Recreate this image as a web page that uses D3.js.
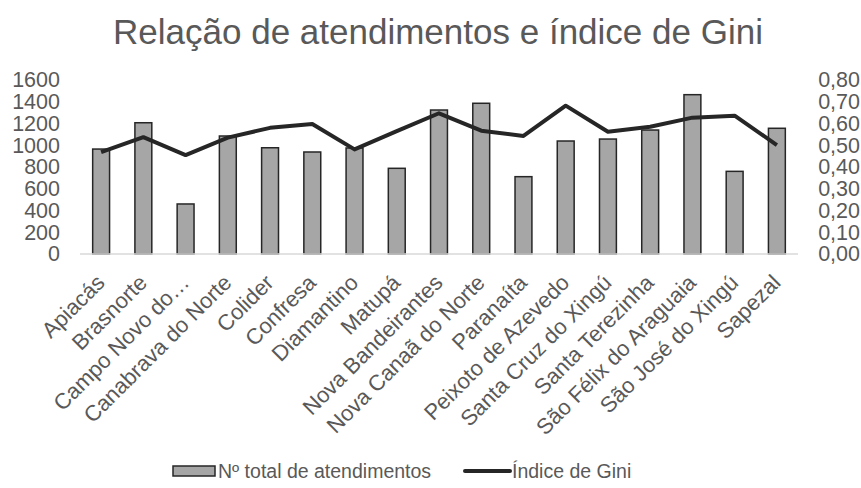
<!DOCTYPE html>
<html>
<head>
<meta charset="utf-8">
<script src="https://cdnjs.cloudflare.com/ajax/libs/d3/7.8.5/d3.min.js"></script>
<style>
  body { margin: 0; background: #fff; }
  svg text { font-family: "Liberation Sans", Arial, sans-serif; fill: #595959; }
</style>
</head>
<body>
<div id="chart"></div>
<script>
const municipios = ['Apiacás', 'Brasnorte', 'Campo Novo do…', 'Canabrava do Norte', 'Colider', 'Confresa',
    'Diamantino', 'Matupá', 'Nova Bandeirantes', 'Nova Canaã do Norte', 'Paranaíta', 'Peixoto de Azevedo',
    'Santa Cruz do Xingú', 'Santa Terezinha', 'São Félix do Araguaia', 'São José do Xingú', 'Sapezal'];
const atendimentos = [965, 1207, 460, 1085, 977, 938, 975, 788, 1324, 1386, 711, 1039, 1057, 1140, 1465, 760, 1156];
const gini = [0.468, 0.537, 0.455, 0.535, 0.580, 0.598, 0.481, 0.565, 0.647, 0.567, 0.543, 0.682, 0.562, 0.585, 0.627, 0.636, 0.501];
const leftTicks = [0, 200, 400, 600, 800, 1000, 1200, 1400, 1600];
const rightTicks = [0, 0.1, 0.2, 0.3, 0.4, 0.5, 0.6, 0.7, 0.8];

const width = 861, height = 488;
const margin = { top: 80, right: 63, bottom: 234, left: 80 };

const svg = d3.select('#chart').append('svg')
    .attr('width', width)
    .attr('height', height);

const x = d3.scaleBand()
    .domain(municipios)
    .range([margin.left, width - margin.right])
    .paddingInner(0.6)
    .paddingOuter(0.3);

const yLeft = d3.scaleLinear().domain([0, 1600]).range([height - margin.bottom, margin.top]);
const yRight = d3.scaleLinear().domain([0, 0.8]).range([height - margin.bottom, margin.top]);

svg.append('text')
    .attr('x', 438)
    .attr('y', 44)
    .attr('text-anchor', 'middle')
    .style('font-size', '35px')
    .text('Relação de atendimentos e índice de Gini');

// eixo esquerdo
const gLeft = svg.append('g')
    .attr('transform', 'translate(60,0)')
    .call(d3.axisLeft(yLeft).tickValues(leftTicks).tickSize(0).tickPadding(0).tickFormat(d3.format('d')));
gLeft.select('.domain').remove();
gLeft.selectAll('text').style('font-size', '21.5px').attr('fill', '#595959');

// eixo direito
const gRight = svg.append('g')
    .attr('transform', `translate(${width - 1},0)`)
    .call(d3.axisLeft(yRight).tickValues(rightTicks).tickSize(0).tickPadding(0)
        .tickFormat(d => d3.format('.2f')(d).replace('.', ',')));
gRight.select('.domain').remove();
gRight.selectAll('text').style('font-size', '21.5px').attr('fill', '#595959');

// barras
svg.selectAll('.bar')
    .data(municipios)
    .enter()
    .append('rect')
    .attr('class', 'bar')
    .attr('x', d => x(d))
    .attr('y', (d, i) => yLeft(atendimentos[i]))
    .attr('width', x.bandwidth())
    .attr('height', (d, i) => yLeft(0) - yLeft(atendimentos[i]))
    .attr('fill', '#a6a6a6')
    .attr('stroke', '#262626')
    .attr('stroke-width', 1.5);

// linha de base
svg.append('line')
    .attr('x1', margin.left)
    .attr('x2', width - margin.right)
    .attr('y1', yLeft(0))
    .attr('y2', yLeft(0))
    .attr('stroke', '#d9d9d9')
    .attr('stroke-width', 1.5);

// linha Gini
const line = d3.line()
    .x((d, i) => x(municipios[i]) + x.bandwidth() / 2)
    .y(d => yRight(d));

svg.append('path')
    .datum(gini)
    .attr('d', line)
    .attr('fill', 'none')
    .attr('stroke', '#262626')
    .attr('stroke-width', 4)
    .attr('stroke-linejoin', 'round');

// rótulos das categorias
svg.selectAll('.cat-label')
    .data(municipios)
    .enter()
    .append('text')
    .attr('class', 'cat-label')
    .attr('text-anchor', 'end')
    .attr('transform', d => `translate(${x(d) + x.bandwidth() / 2 + 5},${yLeft(0) + 30}) rotate(-45)`)
    .style('font-size', '22px')
    .text(d => d);

// legenda
const leg = svg.append('g').attr('transform', 'translate(0,471)');
leg.append('rect')
    .attr('x', 173).attr('y', -5)
    .attr('width', 42).attr('height', 10)
    .attr('fill', '#a6a6a6').attr('stroke', '#262626').attr('stroke-width', 1.5);
leg.append('text')
    .attr('x', 218).attr('y', 7)
    .style('font-size', '19.5px')
    .text('Nº total de atendimentos');
leg.append('line')
    .attr('x1', 465).attr('x2', 510)
    .attr('y1', 0).attr('y2', 0)
    .attr('stroke', '#262626').attr('stroke-width', 4).attr('stroke-linecap', 'round');
leg.append('text')
    .attr('x', 512).attr('y', 7)
    .style('font-size', '19.5px')
    .text('Índice de Gini');
</script>
</body>
</html>
